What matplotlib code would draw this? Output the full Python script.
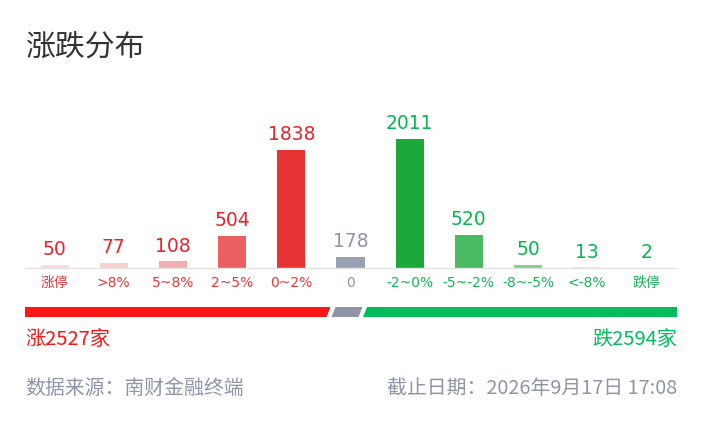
import matplotlib
matplotlib.use("Agg")
import matplotlib.pyplot as plt
from matplotlib.patches import Polygon

plt.rcParams['font.family'] = ['DejaVu Sans', 'Noto Sans CJK SC']

# data
categories = ["涨停", ">8%", "5~8%", "2~5%", "0~2%", "0", "-2~0%", "-5~-2%", "-8~-5%", "<-8%", "跌停"]
counts = [50, 77, 108, 504, 1838, 178, 2011, 520, 50, 13, 2]
bar_colors = ["#fadadb", "#f8d2d3", "#f3adaf", "#ea5f5f", "#e63434", "#9aa0b3",
              "#1da83b", "#4bbb63", "#80d08f", "#daf0de", "#e8f6ea"]
label_colors = ["#e8232b"] * 5 + ["#8f95a6"] + ["#08b551"] * 5
tick_colors = ["#e53838"] * 5 + ["#8f95a6"] + ["#16b257"] * 5

up_total = 2527
flat_total = 178
down_total = 2594

title = "涨跌分布"
source_text = "数据来源：南财金融终端"
date_text = "截止日期：2026年9月17日 17:08"

RED = "#fc1616"
GRAY = "#8f95a6"
GREEN = "#06bb5c"

W, H = 702, 424
fig = plt.figure(figsize=(W / 100, H / 100), dpi=100)
fig.patch.set_facecolor("white")

def fx(px):
    return px / W

def fy(py):
    return 1 - py / H

# title
fig.text(fx(25), fy(47), title, fontsize=21.5, color="#333333",
         family=['Noto Sans CJK SC'], ha="left", va="center")

# bar chart
ax = fig.add_axes([fx(25), fy(268), fx(651), (268 - 100) / H])
x = range(len(categories))
ax.bar(x, counts, width=0.475, color=bar_colors)
ax.set_xlim(-0.5, len(categories) - 0.5)
ax.set_ylim(0, max(counts) * 1.3)
for i, v in enumerate(counts):
    ax.annotate(str(v), (i, v), xytext=(0, 4), textcoords="offset points",
                ha="center", va="bottom", fontsize=13.5, color=label_colors[i])
for s in ["top", "right", "left"]:
    ax.spines[s].set_visible(False)
ax.spines["bottom"].set_color("#e2e2e6")
ax.spines["bottom"].set_linewidth(1)
ax.set_yticks([])
ax.set_xticks(list(x))
ax.set_xticklabels(categories, fontsize=10)
ax.tick_params(axis="x", length=0, pad=6)
for lab, c in zip(ax.get_xticklabels(), tick_colors):
    lab.set_color(c)
ax.patch.set_alpha(0)

# ratio strip
sax = fig.add_axes([0, 0, 1, 1])
sax.set_xlim(0, W)
sax.set_ylim(H, 0)
sax.axis("off")

left, right = 25, 677
top, bottom = 307, 317
gap, slant = 5, 4
avail = right - left - 2 * gap
total = up_total + flat_total + down_total
flat_w = max(flat_total / total * avail, 27)
up_w = (avail - flat_w) * up_total / (up_total + down_total)
x1 = left + up_w
x2 = x1 + gap + flat_w

sax.add_patch(Polygon([(left, top), (x1 + slant / 2, top), (x1 - slant / 2, bottom), (left, bottom)],
                      closed=True, color=RED, lw=0))
sax.add_patch(Polygon([(x1 + gap + slant / 2, top), (x2 + slant / 2, top),
                       (x2 - slant / 2, bottom), (x1 + gap - slant / 2, bottom)],
                      closed=True, color=GRAY, lw=0))
sax.add_patch(Polygon([(x2 + gap + slant / 2, top), (right, top), (right, bottom),
                       (x2 + gap - slant / 2, bottom)],
                      closed=True, color=GREEN, lw=0))

cjk = ['Noto Sans CJK SC', 'DejaVu Sans']
fig.text(fx(25), fy(339), f"涨{up_total}家", fontsize=14.5, color=RED,
         family=cjk, ha="left", va="center")
fig.text(fx(677), fy(339), f"跌{down_total}家", fontsize=14.5, color=GREEN,
         family=cjk, ha="right", va="center")

fig.text(fx(25), fy(388), source_text, fontsize=14.3, color=GRAY,
         family=cjk, ha="left", va="center")
fig.text(fx(677), fy(388), date_text, fontsize=14.3, color=GRAY,
         family=cjk, ha="right", va="center")

fig.savefig("out.png", dpi=100, facecolor="white")
